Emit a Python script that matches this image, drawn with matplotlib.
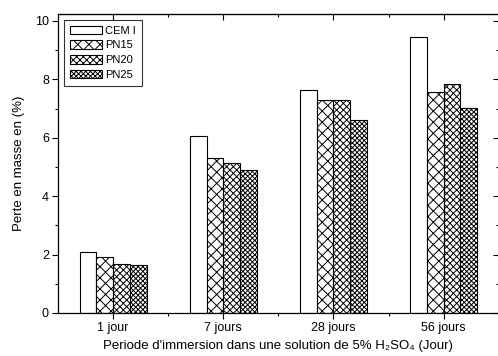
import matplotlib
matplotlib.use("Agg")
import matplotlib.pyplot as plt
from matplotlib.ticker import MultipleLocator, FixedLocator
import numpy as np

plt.rcParams['font.family'] = ['Liberation Sans', 'DejaVu Sans']
plt.rcParams['hatch.linewidth'] = 0.7

# data
categories = ["1 jour", "7 jours", "28 jours", "56 jours"]
series = ["CEM I", "PN15", "PN20", "PN25"]
cem1 = [2.08, 6.05, 7.65, 9.45]
pn15 = [1.91, 5.30, 7.30, 7.58]
pn20 = [1.67, 5.15, 7.30, 7.83]
pn25 = [1.65, 4.90, 6.60, 7.02]
hatches = ["", "xxx", "xxxxx", "xxxxxxx"]

fig = plt.figure(figsize=(4.98, 3.56), dpi=100)
ax = fig.add_axes([0.1165, 0.121, 0.885, 0.84])

x = np.arange(1, len(categories) + 1)
w = 0.152
for i, (vals, h, lab) in enumerate(zip([cem1, pn15, pn20, pn25], hatches, series)):
    ax.bar(x + (i - 1.5) * w, vals, w, color="white", edgecolor="black",
           hatch=h, linewidth=0.8, label=lab)

ax.set_xlim(0.5, 4.5)
ax.set_ylim(0, 10.24)
ax.set_xticks(x)
ax.set_xticklabels(categories)
ax.xaxis.set_minor_locator(FixedLocator([1.5, 2.5, 3.5]))
ax.yaxis.set_major_locator(MultipleLocator(2))
ax.yaxis.set_minor_locator(MultipleLocator(1))
ax.tick_params(which="major", direction="out", length=4.5, width=0.8, labelsize=9, pad=2)
ax.tick_params(which="minor", direction="out", length=2.5, width=0.8)
for s in ax.spines.values():
    s.set_linewidth(0.9)

# mirrored ticks on top/right, pointing inward
sy = ax.secondary_yaxis("right")
sy.yaxis.set_major_locator(MultipleLocator(2))
sy.yaxis.set_minor_locator(MultipleLocator(1))
sy.tick_params(which="major", direction="in", length=4.5, width=0.8, labelright=False)
sy.tick_params(which="minor", direction="in", length=2.5, width=0.8)
sx = ax.secondary_xaxis("top")
sx.set_xticks(x)
sx.xaxis.set_minor_locator(FixedLocator([1.5, 2.5, 3.5]))
sx.tick_params(which="major", direction="in", length=4.5, width=0.8, labeltop=False)
sx.tick_params(which="minor", direction="in", length=2.5, width=0.8)

ax.set_ylabel("Perte en masse en (%)", fontsize=9.5, labelpad=7)
ax.set_xlabel("Periode d'immersion dans une solution de 5% H\u2082SO\u2084 (Jour)",
              fontsize=9.5, labelpad=4)

leg = ax.legend(loc="upper left", bbox_to_anchor=(0.0, 1.0), fontsize=8,
                frameon=True, fancybox=False, edgecolor="black",
                handlelength=2.9, handleheight=0.8, labelspacing=0.42,
                handletextpad=0.3, borderpad=0.5, borderaxespad=0.55)
leg.get_frame().set_linewidth(0.8)

fig.savefig("out.png", dpi=100)
